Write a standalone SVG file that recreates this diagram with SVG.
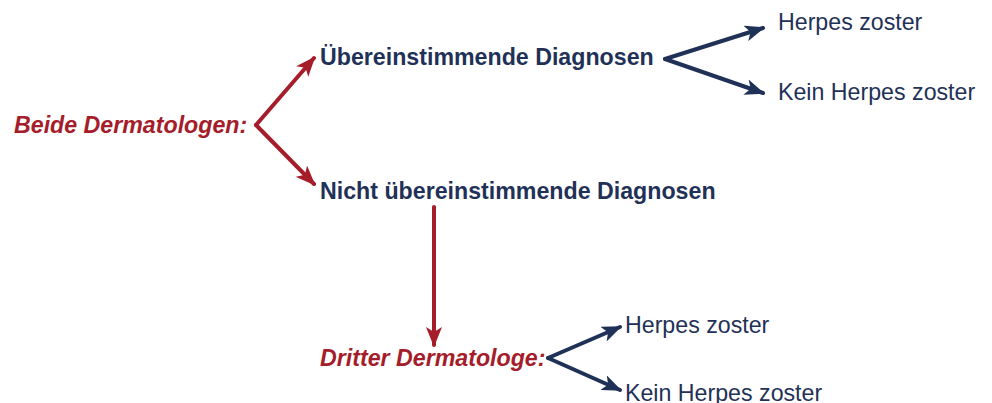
<svg xmlns="http://www.w3.org/2000/svg" width="992" height="403" viewBox="0 0 992 403">
<style>
.t{font-family:"Liberation Sans",Arial,sans-serif;font-size:23.2px}
.red{fill:#a51d2a;font-weight:bold;font-style:italic}
.hd{fill:#1f3157;font-weight:bold}
.lf{fill:#1f3157}
.cr{stroke:#a51d2a;stroke-width:4;fill:none;stroke-linecap:round}
.cb{stroke:#1f3157;stroke-width:4;fill:none;stroke-linecap:round}
</style>
<defs>
<marker id="ar" markerUnits="userSpaceOnUse" viewBox="0 0 20 16" refX="18" refY="8" markerWidth="20" markerHeight="16" orient="auto">
<path d="M0,0 L20,8 L0,16 L5,8 z" fill="#a51d2a"/>
</marker>
<marker id="ab" markerUnits="userSpaceOnUse" viewBox="0 0 20 16" refX="18" refY="8" markerWidth="20" markerHeight="16" orient="auto">
<path d="M0,0 L20,8 L0,16 L5,8 z" fill="#1f3157"/>
</marker>
</defs>
<g id="connectors">
<path class="cr" d="M256,125 L314,58" marker-end="url(#ar)"/>
<path class="cr" d="M256,125 L314,184" marker-end="url(#ar)"/>
<path class="cb" d="M665,59 L763,28" marker-end="url(#ab)"/>
<path class="cb" d="M665,59 L763,93" marker-end="url(#ab)"/>
<line class="cr" x1="434" y1="207" x2="434" y2="345" marker-end="url(#ar)"/>
<path class="cb" d="M548,358 L620,327" marker-end="url(#ab)"/>
<path class="cb" d="M548,358 L620,390" marker-end="url(#ab)"/>
</g>
<g id="beide"><text class="t red" x="14" y="133">Beide Dermatologen:</text></g>
<g id="ueber"><text class="t hd" x="320" y="65">Übereinstimmende Diagnosen</text></g>
<g id="nicht"><text class="t hd" x="320" y="199">Nicht übereinstimmende Diagnosen</text></g>
<g id="hz1"><text class="t lf" x="778" y="30">Herpes zoster</text></g>
<g id="khz1"><text class="t lf" x="778" y="100">Kein Herpes zoster</text></g>
<g id="dritter"><text class="t red" x="320" y="366">Dritter Dermatologe:</text></g>
<g id="hz2"><text class="t lf" x="625" y="333">Herpes zoster</text></g>
<g id="khz2"><text class="t lf" x="625" y="401">Kein Herpes zoster</text></g>
</svg>
